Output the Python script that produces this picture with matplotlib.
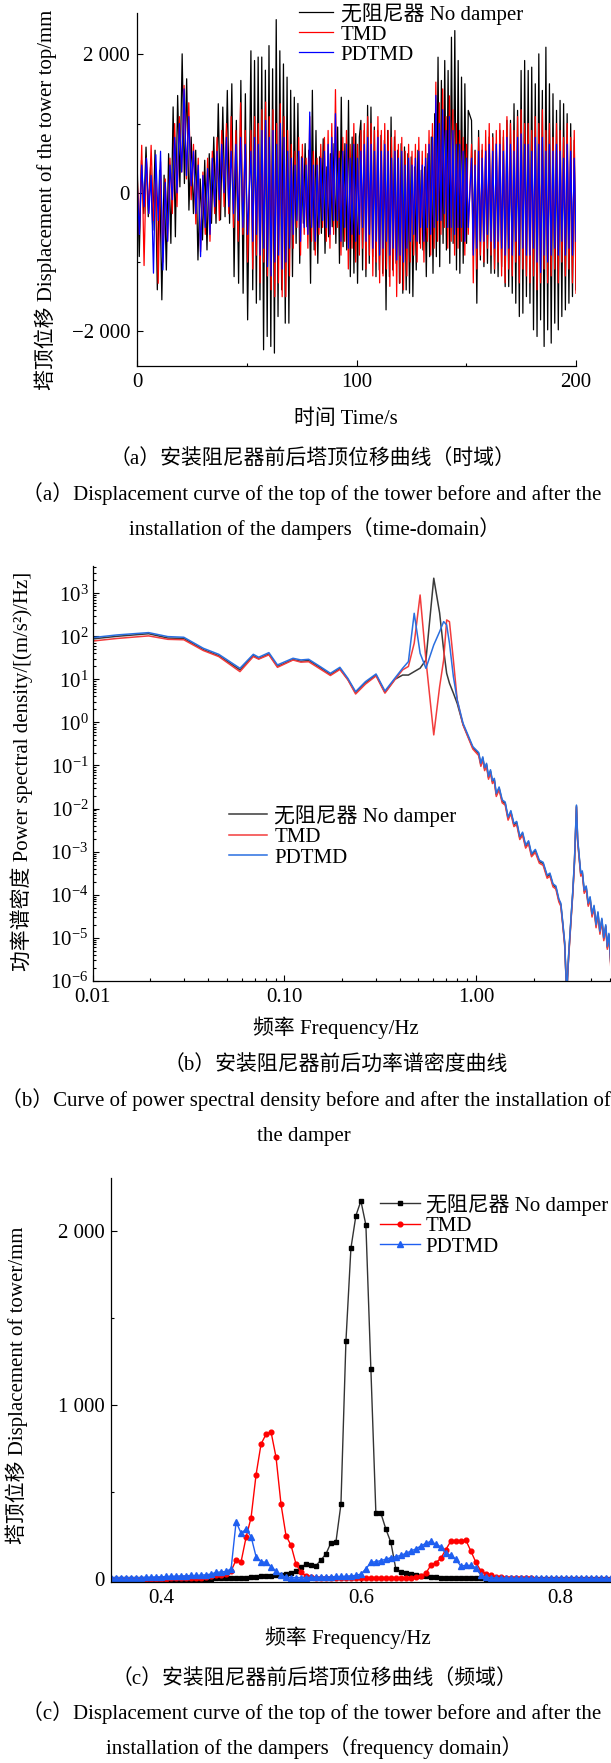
import matplotlib
matplotlib.use("Agg")
import matplotlib.pyplot as plt
import numpy as np
from matplotlib.ticker import FixedLocator, FixedFormatter, LogLocator, NullFormatter, LogFormatterMathtext

# ---- (a) time domain: alternating peak / trough values, mm ----
SEG_SPANS = [(0.0, 50.4), (51.9, 101.3), (102.0, 150.9), (152.4, 200.0)]

NODAMP_A = [
    [520, -920, 470, -300, 660, -345, 375, -540, 615, -1400, 325, -1545, 255, -1115, 565, -730, 1240, -635,
     1405, 86, 2006, 134, 1646, -250, 805, -300, 615, -970, 200, -680, 470, -825, 565, -440, 805, -440, 1286,
     -390, 1238, -345, 1478, -440, 1574, -1210, 1046, -1306, 1622, -1450, 1430, -1834],
    [2050, -1400, 1910, -1594, 1960, -1546, 1960, -2266, 1770, -2074, 2125, -2218, 1790, -2314, 2500, -1786,
     2050, -1400, 1860, -1882, 1670, -1882, 1480, -1210, 1380, -730, 1290, -1018, 520, -440, 710, -490, 615,
     -1306, 1480, -825, 900, -1018, 520, -585, 780, -874, 375, -635, 565, -490, 710, -730, 950, -1018, 1380,
     -778, 710, -825, 1334, -1210, 805, -1160, 855, -1306, 805],
    [1046, -1114, 900, -1210, 1262, -1018, 1238, -922, 950, -1210, 900, -1114, 830, -1162, 758, -1690, 900,
     -1210, 1094, -1114, 806, -1018, 615, -1306, 710, -1450, 662, -1402, 565, -1450, 518, -1498, 374, -1114,
     614, -730, 326, -826, 374, -1210, 566, -922, 806, -1162, 1142, -922, 1958, -1066, 1622, -730, 1910, -826,
     1766, -1018, 2246, -730, 2342, -1114, 1910, -1162, 1670, -1018, 1574, -730, 1190],
    [1046, -825, 615, -1594, 900, -970, 615, -1066, 615, -1018, 806, -1162, 854, -1162, 710, -1210, 902,
     -1066, 806, -1354, 1046, -1354, 1046, -1450, 1286, -1594, 1190, -1786, 1766, -1738, 1910, -1498, 1766,
     -1594, 1814, -1978, 1574, -2074, 2006, -1834, 1478, -2218, 2102, -1978, 1574, -2170, 1430, -1882, 1190,
     -1978, 1334, -1786, 1286, -1690, 1142, -1594, 998, -1498, 758, -1400],
]
TMD_A = [
    [330, -600, 686, -1050, 500, -300, 686, -400, 300, -1306, 450, -1000, 200, -700, 500, -300, 1000, -200,
     1100, 300, 1550, 200, 1300, -100, 700, -450, 500, -850, 300, -600, 500, -700, 600, -300, 800, -400, 900,
     -200, 1000, -300, 1100, -500, 900, -700, 1300, -600, 900, -1000],
    [900, -1100, 1100, -900, 1000, -1300, 1200, -1000, 1310, -1200, 1100, -1400, 1200, -1500, 1000, -1300,
     1286, -1500, 1100, -1500, 900, -1200, 700, -800, 600, -500, 800, -900, 700, -600, 500, -800, 1100, -700,
     600, -900, 500, -600, 700, -500, 800, -700, 900, -800, 1000, -600, 1490, -500, 600, -900, 800, -700, 900,
     -1100, 700, -800, 1000, -1000, 700, -900],
    [900, -800, 1000, -1100, 1100, -900, 1000, -1200, 900, -1000, 1100, -1300, 900, -1200, 1000, -1100, 900,
     -1350, 800, -1200, 900, -1498, 700, -1300, 800, -1400, 600, -1200, 700, -1000, 600, -900, 700, -1000,
     800, -800, 600, -1000, 700, -700, 900, -900, 1000, -800, 1598, -700, 1300, -600, 1500, -500, 1100, -800,
     1400, -700, 1200, -900, 1000, -800, 900, -700, 800, -900, 700, -600],
    [700, -1300, 600, -1100, 800, -900, 700, -1000, 900, -800, 1000, -900, 800, -1100, 900, -1000, 1000,
     -1200, 900, -1300, 1100, -1100, 1000, -1200, 900, -1000, 1100, -1300, 1200, -1100, 1000, -1200, 1000,
     -1300, 900, -1200, 1100, -1400, 1000, -1300, 1200, -1100, 900, -1300, 1000, -1200, 800, -1100, 1000,
     -1300, 900, -1000, 800, -1200, 1000, -1100, 800, -1300, 900, -1450],
]
PDTMD_A = [
    [200, -600, 400, -200, 500, -300, 250, -1160, 550, -400, 600, -1114, 150, -700, 400, -100, 800, 0, 1000,
     300, 1500, 250, 1100, 100, 600, -300, 400, -922, 250, -500, 350, -600, 500, -200, 600, -100, 700, 0, 800,
     -200, 600, -300, 700, -400, 800, -500, 700, -600],
    [600, -700, 800, -600, 700, -900, 900, -800, 1046, -1066, 800, -1200, 900, -1000, 700, -900, 1000, -1100,
     800, -1000, 600, -800, 500, -600, 400, -400, 600, -700, 500, -500, 400, -600, 1166, -500, 400, -700, 400,
     -500, 500, -400, 600, -500, 700, -600, 800, -400, 1142, -400, 500, -700, 600, -500, 700, -800, 500, -600,
     700, -700, 500, -600],
    [600, -500, 700, -700, 800, -600, 700, -800, 600, -700, 800, -900, 600, -800, 700, -700, 600, -900, 500,
     -800, 600, -970, 500, -900, 600, -1000, 400, -800, 500, -700, 400, -600, 500, -700, 600, -500, 400, -700,
     500, -500, 700, -600, 800, -500, 1406, -400, 1000, -400, 1200, -300, 900, -500, 1100, -500, 900, -600,
     700, -500, 700, -500, 600, -700, 500, -500],
    [500, -900, 400, -800, 600, -700, 500, -700, 600, -600, 700, -700, 600, -800, 700, -700, 700, -800, 600,
     -900, 800, -800, 700, -900, 600, -700, 800, -900, 850, -800, 700, -900, 700, -900, 600, -800, 800, -1000,
     700, -1150, 800, -900, 600, -1000, 700, -900, 600, -800, 700, -900, 600, -700, 500, -900, 700, -800, 600,
     -900, 500, -700],
]

# ---- (b) power spectral density, log10 values ----
PSD_FREQ = [0.0100, 0.0134, 0.0196, 0.0247, 0.0299, 0.0378, 0.0455, 0.0587, 0.0689, 0.0735,
            0.0831, 0.0921, 0.111, 0.122, 0.134, 0.154, 0.174, 0.195, 0.2145, 0.2355,
            0.265, 0.301, 0.335, 0.377, 0.414, 0.444, 0.476, 0.511, 0.548, 0.602,
            0.646, 0.678, 0.703, 0.727, 0.762, 0.798, 0.856, 0.963,
            1.033, 1.06, 1.085, 1.109, 1.135, 1.162, 1.19, 1.218, 1.246, 1.276,
            1.32, 1.370, 1.42, 1.470, 1.52, 1.577, 1.63, 1.692, 1.75, 1.815,
            1.88, 1.948, 2.04, 2.139, 2.24, 2.350, 2.43, 2.522, 2.61, 2.705,
            2.77, 2.836, 2.90, 2.972, 3.042, 3.145, 3.20, 3.263, 3.30, 3.342,
            3.39, 3.453, 3.52, 3.585, 3.67, 3.757, 3.85, 3.937, 4.03, 4.128,
            4.23, 4.326, 4.43, 4.534, 4.64, 4.752, 4.84, 4.934, 5.05]
PSD_NODAMP_LOG = [1.94, 2.00, 2.06, 1.96, 1.95, 1.69, 1.55, 1.22, 1.55, 1.48,
                  1.59, 1.30, 1.46, 1.42, 1.44, 1.27, 1.11, 1.25, 1.00, 0.69,
                  0.92, 1.10, 0.70, 1.00, 1.10, 1.10, 1.18, 1.26, 1.45, 3.35,
                  2.54, 1.68, 1.14, 0.91, 0.68, 0.44, -0.05, -0.59,
                  -0.73, -0.98, -0.83, -1.08, -0.98, -1.28, -1.13, -1.38, -1.33, -1.68,
                  -1.53, -1.83, -1.88, -2.23, -2.08, -2.38, -2.33, -2.68, -2.58, -2.88,
                  -2.78, -3.08, -2.98, -3.23, -3.28, -3.58, -3.53, -3.78, -3.83, -4.13,
                  -4.23, -4.68, -5.13, -6.30, -5.43, -4.43, -3.93, -3.23, -2.63, -1.94,
                  -2.73, -3.13, -3.53, -3.48, -3.93, -3.83, -4.23, -4.08, -4.48, -4.28,
                  -4.73, -4.43, -4.88, -4.58, -5.03, -4.73, -5.23, -4.93, -5.63]
PSD_TMD_LOG = [1.89, 1.95, 2.01, 1.93, 1.92, 1.67, 1.53, 1.18, 1.53, 1.47,
               1.57, 1.28, 1.45, 1.40, 1.41, 1.24, 1.09, 1.23, 0.99, 0.66,
               0.89, 1.08, 0.68, 0.99, 1.22, 1.30, 1.84, 2.96, 1.45, -0.29,
               0.83, 1.45, 2.38, 2.34, 1.45, 0.52, -0.06, -0.62,
               -0.77, -1.02, -0.87, -1.12, -1.02, -1.32, -1.17, -1.42, -1.37, -1.72,
               -1.57, -1.87, -1.92, -2.27, -2.12, -2.42, -2.37, -2.72, -2.62, -2.92,
               -2.82, -3.12, -3.02, -3.27, -3.32, -3.62, -3.57, -3.82, -3.87, -4.17,
               -4.27, -4.72, -5.17, -6.30, -5.47, -4.47, -3.97, -3.27, -2.67, -1.97,
               -2.77, -3.17, -3.57, -3.52, -3.97, -3.87, -4.27, -4.12, -4.52, -4.32,
               -4.77, -4.47, -4.92, -4.62, -5.07, -4.77, -5.27, -4.97, -5.70]
PSD_PDTMD_LOG = [1.970, 2.032, 2.086, 1.993, 1.978, 1.722, 1.582, 1.257, 1.582, 1.513,
                 1.621, 1.335, 1.490, 1.451, 1.466, 1.296, 1.141, 1.280, 1.025, 0.715,
                 0.947, 1.125, 0.730, 1.025, 1.257, 1.412, 2.535, 1.606, 1.257, 1.799,
                 2.109, 2.342, 2.264, 1.838, 1.064, 0.521, -0.021, -0.563,
                 -0.70, -0.95, -0.80, -1.05, -0.95, -1.25, -1.10, -1.35, -1.30, -1.65,
                 -1.50, -1.80, -1.85, -2.20, -2.05, -2.35, -2.30, -2.65, -2.55, -2.85,
                 -2.75, -3.05, -2.95, -3.20, -3.25, -3.55, -3.50, -3.75, -3.80, -4.10,
                 -4.20, -4.65, -5.10, -6.30, -5.40, -4.40, -3.90, -3.20, -2.60, -1.92,
                 -2.70, -3.10, -3.50, -3.45, -3.90, -3.80, -4.20, -4.05, -4.45, -4.25,
                 -4.70, -4.40, -4.85, -4.55, -5.00, -4.70, -5.20, -4.90, -5.60]

# ---- (c) frequency domain, 0.35 .. 0.85 Hz in 0.005 Hz bins, mm ----
FREQ_C = np.round(np.linspace(0.35, 0.85, 101), 3)
NODAMP_C = [2, 2, 2, 2, 2, 2, 2, 2, 2, 3, 3, 3, 3, 3, 3, 3, 3, 4, 4,
            4, 4, 5, 5, 6, 7, 8, 9, 10, 12, 13, 16, 18, 20, 22, 26, 30, 36, 46, 70,
            86, 82, 78, 111, 145, 210, 214, 430, 1365, 1899, 2086, 2170, 2032, 1205, 379, 379, 288, 212, 59, 42,
            38, 32, 25, 20, 17, 14, 12, 10, 9, 8, 7, 7, 6, 6, 5, 5, 4,
            4, 4, 3, 3, 3, 3, 3, 3, 3, 2, 2, 2, 2, 2, 2, 2, 2, 2, 2, 2, 2, 2, 2, 2, 2]
TMD_C = [3, 3, 3, 3, 3, 3, 3, 3, 3, 3, 4, 4, 5, 5, 6, 6, 7, 8, 9,
         12, 20, 22, 22, 30, 48, 111, 101, 241, 354, 600, 776, 832, 845, 700, 430, 250, 195, 88, 40,
         21, 12, 8, 6, 5, 5, 5, 5, 5, 5, 5, 5, 5, 5, 5, 5, 6, 6, 7, 8,
         9, 10, 12, 18, 34, 80, 95, 120, 170, 218, 220, 220, 225, 164, 99, 49, 32, 22, 15, 11,
         9, 7, 6,
         5, 5, 5, 4, 4, 4, 4, 4, 4, 3, 3, 3, 3, 3, 3, 3, 3, 3, 3]
PDTMD_C = [10, 10, 10, 10, 10, 10, 10, 12, 12, 14, 14, 16, 18, 18, 20, 20, 22, 22, 24,
           26, 30, 40, 42, 45, 60, 330, 264, 287, 245, 130, 101, 97, 72, 47, 24, 12, 10, 10, 10,
           10, 12, 12, 12, 14, 14, 16, 16, 18, 20, 22, 30, 60, 97, 101, 107, 115, 124, 130, 137,
           149, 162, 174, 191, 206, 218, 201, 187, 149, 137, 115, 76, 80, 80, 67, 25, 12, 9, 8, 7,
           7, 7, 6,
           6, 6, 6, 6, 6, 6, 6, 6, 6, 6, 6, 6, 6, 6, 6, 6, 6, 6, 6]

LABELS = ["无阻尼器 No damper", "TMD", "PDTMD"]

W, H = 611, 1763
FS = 15


def fig_x(px):
    return px / W


def fig_y(py):
    return 1 - py / H


def segment_times(segments):
    parts = [np.linspace(a, b, len(vals)) for (a, b), vals in zip(SEG_SPANS, segments)]
    return np.concatenate(parts), np.concatenate([np.asarray(v, float) for v in segments])


def style_axes(ax):
    for side in ("top", "right"):
        ax.spines[side].set_visible(False)
    ax.tick_params(which="both", direction="in", labelsize=FS, width=0.8)
    ax.tick_params(which="major", length=4, pad=5)
    ax.tick_params(which="minor", length=2.5)


def draw_time_domain(ax):
    for segs, color in ((NODAMP_A, "black"), (TMD_A, "#ff0000"), (PDTMD_A, "#0000ff")):
        t, v = segment_times(segs)
        ax.plot(t, v, color=color, lw=0.9)
    ax.set_xlim(0, 200)
    ax.set_ylim(-2500, 2600)
    ax.xaxis.set_major_locator(FixedLocator([0, 100, 200]))
    ax.xaxis.set_minor_locator(FixedLocator([50, 150]))
    ax.yaxis.set_major_locator(FixedLocator([-2000, 0, 2000]))
    ax.yaxis.set_major_formatter(FixedFormatter(["−2 000", "0", "2 000"]))
    ax.yaxis.set_minor_locator(FixedLocator([-1000, 1000]))
    style_axes(ax)
    ax.legend(LABELS, loc="upper left", bbox_to_anchor=((299 - 137) / 439, (366 - 3) / 353.3),
              frameon=False, fontsize=FS, handlelength=1.65, handletextpad=0.35,
              labelspacing=0.02, borderpad=0, borderaxespad=0)


def draw_psd(ax):
    f = np.asarray(PSD_FREQ)
    for vals, color in ((PSD_NODAMP_LOG, "#3a3a3a"), (PSD_TMD_LOG, "#f23c3c"), (PSD_PDTMD_LOG, "#2a6fe0")):
        ax.plot(f, 10 ** np.asarray(vals), color=color, lw=1.1)
    ax.set_xscale("log")
    ax.set_yscale("log")
    ax.set_xlim(0.01, 5.0)
    ax.set_ylim(1e-6, 4.3e3)
    ax.xaxis.set_major_locator(FixedLocator([0.01, 0.1, 1.0]))
    ax.xaxis.set_major_formatter(FixedFormatter(["0.01", "0.10", "1.00"]))
    ax.xaxis.set_minor_locator(LogLocator(base=10, subs=np.arange(2, 10)))
    ax.xaxis.set_minor_formatter(NullFormatter())
    ax.yaxis.set_major_locator(LogLocator(base=10, numticks=20))
    ax.yaxis.set_major_formatter(LogFormatterMathtext())
    ax.yaxis.set_minor_locator(LogLocator(base=10, subs=np.arange(2, 10), numticks=20))
    ax.yaxis.set_minor_formatter(NullFormatter())
    style_axes(ax)
    ax.tick_params(axis="y", which="major", pad=3)
    ax.legend(LABELS, loc="upper left", bbox_to_anchor=((228.5 - 92.6) / 517.4, (980.7 - 805) / 414.7),
              frameon=False, fontsize=FS, handlelength=1.85, handletextpad=0.35,
              labelspacing=0.04, borderpad=0, borderaxespad=0)


def draw_freq_domain(ax):
    ax.plot(FREQ_C, NODAMP_C, color="#333333", lw=1.0, marker="s", ms=3.2, mfc="black", mec="black")
    ax.plot(FREQ_C, TMD_C, color="#ff0000", lw=1.0, marker="o", ms=3.4)
    ax.plot(FREQ_C, PDTMD_C, color="#1f5ff0", lw=1.0, marker="^", ms=3.8)
    ax.set_xlim(0.35, 0.85)
    ax.set_ylim(-15, 2300)
    ax.xaxis.set_major_locator(FixedLocator([0.4, 0.6, 0.8]))
    ax.xaxis.set_major_formatter(FixedFormatter(["0.4", "0.6", "0.8"]))
    ax.yaxis.set_major_locator(FixedLocator([0, 1000, 2000]))
    ax.yaxis.set_major_formatter(FixedFormatter(["0", "1 000", "2 000"]))
    ax.yaxis.set_minor_locator(FixedLocator([500, 1500]))
    style_axes(ax)
    ax.legend(LABELS, loc="upper left", bbox_to_anchor=((380 - 111.3) / 499.2, (1581.9 - 1194) / 403.6),
              frameon=False, fontsize=FS, handlelength=1.9, handletextpad=0.3,
              labelspacing=0.04, borderpad=0, borderaxespad=0)


def add_texts(fig):
    def put(x, y, s, **kw):
        fig.text(fig_x(x), fig_y(y), s, fontsize=FS, va="center", **kw)

    put(46, 200, "塔顶位移 Displacement of the tower top/mm", ha="center", rotation=90)
    put(346, 419, "时间 Time/s", ha="center")
    put(313, 459, "（a）安装阻尼器前后塔顶位移曲线（时域）", ha="center")
    put(312, 494, "（a）Displacement curve of the top of the tower before and after the", ha="center")
    put(315, 529, "installation of the dampers（time-domain）", ha="center")

    put(22, 771, "功率谱密度 Power spectral density/[(m/s²)/Hz]", ha="center", rotation=90)
    put(336, 1028, "频率 Frequency/Hz", ha="center")
    put(336, 1066, "（b）安装阻尼器前后功率谱密度曲线", ha="center")
    put(1, 1100, "（b）Curve of power spectral density before and after the installation of", ha="left")
    put(304, 1137, "the damper", ha="center")

    put(17, 1385, "塔顶位移 Displacement of tower/mm", ha="center", rotation=90)
    put(348, 1638, "频率 Frequency/Hz", ha="center")
    put(314, 1679, "（c）安装阻尼器前后塔顶位移曲线（频域）", ha="center")
    put(312, 1713, "（c）Displacement curve of the top of the tower before and after the", ha="center")
    put(314, 1748, "installation of the dampers（frequency domain）", ha="center")


def main():
    plt.rcParams["font.family"] = ["Liberation Serif", "Noto Sans CJK SC"]
    plt.rcParams["mathtext.fontset"] = "custom"
    plt.rcParams["mathtext.rm"] = "Liberation Serif"
    plt.rcParams["mathtext.default"] = "regular"
    plt.rcParams["axes.linewidth"] = 0.9

    fig = plt.figure(figsize=(W / 100, H / 100), dpi=100)
    ax_a = fig.add_axes([fig_x(137), fig_y(366), 439 / W, 353.3 / H])
    ax_b = fig.add_axes([fig_x(92.6), fig_y(980.7), 517.4 / W, 414.7 / H])
    ax_c = fig.add_axes([fig_x(111.3), fig_y(1581.9), 499.2 / W, 403.6 / H])

    draw_time_domain(ax_a)
    draw_psd(ax_b)
    draw_freq_domain(ax_c)
    add_texts(fig)

    fig.savefig("out.png", dpi=100)
    plt.close(fig)


if __name__ == "__main__":
    main()
